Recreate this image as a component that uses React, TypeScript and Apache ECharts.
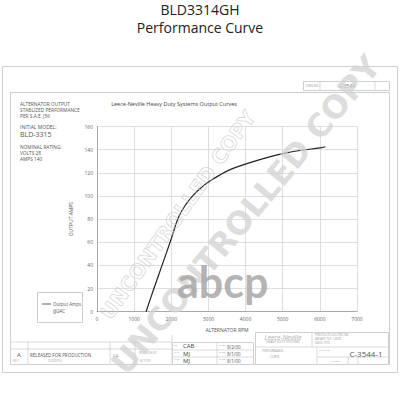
import React, { useEffect, useRef } from "react";
import * as echarts from "echarts";

const rpm = [1320, 1500, 1750, 2000, 2200, 2400, 2600, 2800, 3000, 3300, 3600, 4000, 4500, 5000, 5500, 6000, 6150];
const amps = [0, 17, 40, 63, 82, 93, 101, 107, 112, 118, 123, 127.5, 132.5, 136.5, 139.5, 141.5, 142.5];
const seriesName = "Output Amps @24C";
const chartTitle = "Leece-Neville Heavy Duty Systems Output Curves";
const mainTitle = "BLD3314GH";
const subTitle = "Performance Curve";
const notes = ["ALTERNATOR OUTPUT", "STABLIZED PERFORMANCE", "PER S.A.E. J56"];
const modelLines = ["INITIAL MODEL:", "BLD-3315"];
const ratingLines = ["NOMINAL RATING:", "VOLTS 28", "AMPS 140"];

const FONT = "Open Sans, DejaVu Sans, sans-serif";
const LINE = "#cfcfcf";

function txt(text: string, x: number, y: number, size: number, fill = "#555", extra: any = {}) {
  return {
    type: "text",
    silent: true,
    x,
    y,
    style: { text, fontSize: size, fontFamily: FONT, fill, textVerticalAlign: "middle", ...extra },
  };
}
function rect(x: number, y: number, w: number, h: number, stroke = LINE, lw = 1) {
  return { type: "rect", silent: true, shape: { x, y, width: w, height: h }, style: { fill: "none", stroke, lineWidth: lw } };
}
function ln(x1: number, y1: number, x2: number, y2: number, stroke = LINE) {
  return { type: "line", silent: true, shape: { x1, y1, x2, y2 }, style: { stroke, lineWidth: 0.8 } };
}

export default function App() {
  const ref = useRef<HTMLDivElement>(null);
  useEffect(() => {
    if (!ref.current) return;
    const chart = echarts.init(ref.current, null, { renderer: "svg" });
    const graphics: any[] = [
      txt(mainTitle, 200, 9, 14, "#222", { textAlign: "center" }),
      txt(subTitle, 200, 27, 14, "#222", { textAlign: "center" }),
      // frames
      rect(2.5, 66.5, 395, 306),
      rect(10.5, 92.5, 379, 272),
      // top-right small box
      rect(303.5, 81.5, 86, 9),
      ln(320, 82, 320, 90),
      ln(375, 82, 375, 90),
      txt("DWG NO.", 306, 86, 3, "#999"),
      txt("C-3544", 347, 86, 5, "#777", { textAlign: "center" }),
      // chart heading
      txt(chartTitle, 174, 104, 5.5, "#444", { textAlign: "center" }),
      // notes
      txt(notes[0], 20, 104, 4.8, "#555"),
      txt(notes[1], 20, 110, 4.8, "#555"),
      txt(notes[2], 20, 116, 4.8, "#555"),
      txt(modelLines[0], 20, 127, 5, "#555"),
      txt(modelLines[1], 20, 134, 7, "#555"),
      txt(ratingLines[0], 20, 147, 4.8, "#555"),
      txt(ratingLines[1], 20, 153, 4.8, "#555"),
      txt(ratingLines[2], 20, 159, 4.8, "#555"),
      // legend box
      rect(37.5, 292.5, 45, 30, "#ccc"),
      ln(42, 304, 51, 304, "#333"),
      txt("Output Amps", 53, 304, 4.5, "#555"),
      txt("@24C", 53, 311, 4.5, "#555"),
      // title block left
      ln(10, 342, 172, 342),
      ln(10, 349, 172, 349),
      ln(28, 342, 28, 365),
      ln(110, 342, 110, 365),
      ln(135, 342, 135, 365),
      ln(172, 335, 172, 365),
      txt("A", 17, 355, 6, "#555"),
      txt("REV", 13, 361, 3, "#aaa"),
      txt("RELEASED FOR PRODUCTION", 30, 355, 4.5, "#555"),
      txt("20000000", 48, 361, 3, "#aaa"),
      txt("C.A.", 113, 355, 3.5, "#888"),
      txt("REVISION BY", 139, 353, 3, "#aaa"),
      txt("8/7/00", 140, 360, 3.5, "#aaa"),
      // middle cells
      rect(172.5, 342.5, 81, 22),
      ln(172, 350, 253, 350),
      ln(172, 357, 253, 357),
      ln(217, 342, 217, 365),
      txt("DR", 174, 345, 2.5, "#999"),
      txt("CHK", 174, 352, 2.5, "#999"),
      txt("APPR", 174, 359, 2.5, "#999"),
      txt("CAB", 183, 346, 6, "#444"),
      txt("MJ", 183, 354, 6, "#444"),
      txt("MJ", 183, 361, 6, "#444"),
      txt("DATE", 219, 345, 2.5, "#999"),
      txt("DATE", 219, 352, 2.5, "#999"),
      txt("DATE", 219, 359, 2.5, "#999"),
      txt("8/2/00", 227, 347, 4.5, "#555"),
      txt("8/1/00", 227, 354, 4.5, "#555"),
      txt("8/1/00", 227, 361, 4.5, "#555"),
      // right title block
      rect(255.5, 332.5, 133, 32),
      ln(255, 347, 389, 347),
      ln(312, 333, 312, 347),
      ln(317, 347, 317, 365),
      ln(317, 357, 389, 357),
      ln(348, 357, 348, 365),
      ln(358, 357, 358, 365),
      txt("Leece-Neville", 283, 337, 6.5, "#aaa", { textAlign: "center", fontStyle: "italic" }),
      txt("HEAVY DUTY SYSTEMS", 283, 342, 3.2, "#999", { textAlign: "center" }),
      txt("PRESTOLITE ELECTRIC INC.", 315, 335, 2.8, "#999"),
      txt("ARCADE, N.Y. 14009", 315, 339, 2.8, "#999"),
      txt("SINCE 1910", 315, 343, 2.8, "#999"),
      txt("PERFORMANCE", 262, 351, 3, "#999"),
      txt("CURVE", 270, 357, 3, "#999"),
      txt("DWG NO.", 319, 350, 2.5, "#999"),
      txt("C-3544-1", 366, 353, 8, "#555", { textAlign: "center" }),
      txt("SHEET", 332, 361, 2.5, "#aaa"),
      // watermarks
      {
        type: "text",
        silent: true,
        x: 246,
        y: 215,
        rotation: 0.88,
        z: 100,
        style: {
          text: "UNCONTROLLED COPY",
          fontSize: 32,
          fontWeight: "bold",
          fontFamily: "DejaVu Sans, sans-serif",
          fill: "rgba(210,210,210,0.75)",
          textAlign: "center",
          textVerticalAlign: "middle",
        },
      },
      {
        type: "text",
        silent: true,
        x: 178,
        y: 215,
        rotation: 0.95,
        z: 99,
        style: {
          text: "UNCONTROLLED COPY",
          fontSize: 20,
          fontWeight: "bold",
          fontFamily: "DejaVu Sans, sans-serif",
          fill: "none",
          stroke: "rgba(205,205,205,0.8)",
          lineWidth: 0.8,
          textAlign: "center",
          textVerticalAlign: "middle",
        },
      },
      {
        type: "text",
        silent: true,
        x: 177,
        y: 281,
        z: 101,
        style: {
          text: "abcp",
          fontSize: 43,
          fontWeight: "bold",
          fontFamily: "Lato, sans-serif",
          fill: "rgba(170,170,170,0.9)",
          textVerticalAlign: "middle",
        },
      },
    ];

    chart.setOption({
      animation: false,
      backgroundColor: "#ffffff",
      grid: { left: 97, right: 43, top: 126.5, bottom: 88.3, containLabel: false, show: false },
      xAxis: {
        type: "value",
        min: 0,
        max: 7000,
        interval: 1000,
        name: "ALTERNATOR RPM",
        nameLocation: "middle",
        nameGap: 16,
        nameTextStyle: { fontSize: 5, color: "#555", fontFamily: FONT },
        axisLine: { lineStyle: { color: "#aaa", width: 1 } },
        axisTick: { show: false },
        axisLabel: { fontSize: 5, color: "#666", margin: 5, fontFamily: FONT, formatter: (v: number) => String(v) },
        splitLine: { show: true, lineStyle: { color: "#d6d6d6", width: 0.8 } },
      },
      yAxis: {
        type: "value",
        min: 0,
        max: 160,
        interval: 20,
        name: "OUTPUT AMPS",
        nameLocation: "middle",
        nameGap: 16,
        nameRotate: 90,
        nameTextStyle: { fontSize: 5, color: "#555", fontFamily: FONT },
        axisLine: { show: true, lineStyle: { color: "#aaa", width: 1 } },
        axisTick: { show: false },
        axisLabel: { fontSize: 5, color: "#666", margin: 4, fontFamily: FONT },
        splitLine: { show: true, lineStyle: { color: "#d6d6d6", width: 0.8 } },
      },
      series: [
        {
          name: seriesName,
          type: "line",
          data: rpm.map((r, i) => [r, amps[i]]),
          smooth: 0.4,
          showSymbol: false,
          lineStyle: { color: "#222", width: 1.2 },
          silent: true,
        },
      ],
      graphic: { elements: graphics },
    });
    return () => chart.dispose();
  }, []);
  return (
    <div
      ref={ref}
      style={{ position: "fixed", left: 0, top: 0, width: 400, height: 400, background: "#fff" }}
    />
  );
}
